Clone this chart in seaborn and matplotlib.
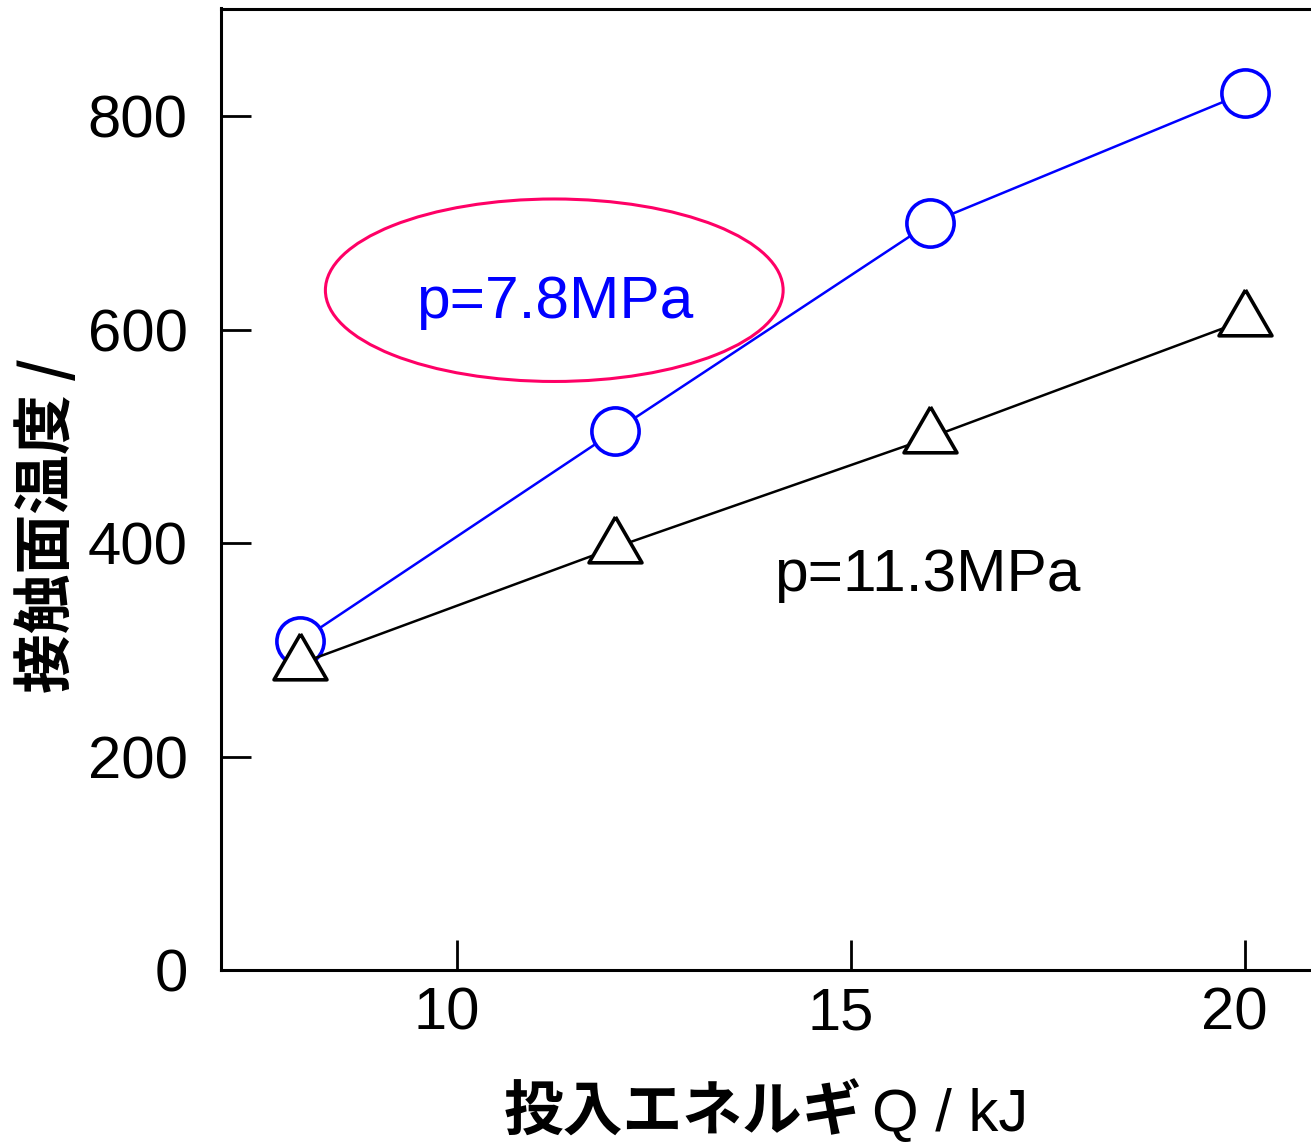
import matplotlib
matplotlib.use("Agg")
import matplotlib.pyplot as plt
from matplotlib.patches import Ellipse
from matplotlib.transforms import ScaledTranslation
import pandas as pd
import seaborn as sns

# values
energy = [8, 12, 16, 20]                      # Q / kJ
temp_78 = [308, 505, 700, 822]                # p = 7.8 MPa (circles)
temp_113 = [287, 396, 499, 609]               # p = 11.3 MPa (triangles)
x_ticks = [10, 15, 20]
y_ticks = [0, 200, 400, 600, 800]

sns.set_style("white")
plt.rcParams["font.family"] = ["Liberation Sans", "Noto Sans CJK JP", "DejaVu Sans"]
plt.rcParams["text.color"] = "black"
plt.rcParams["axes.labelcolor"] = "black"

df = pd.DataFrame({"Q": energy, "p78": temp_78, "p113": temp_113})

fig = plt.figure(figsize=(13.11, 11.42), dpi=100)
ax = fig.add_axes([221 / 1311, 1 - 970 / 1142, 1103 / 1311, 961.5 / 1142])

# equilateral triangle, centred on its centroid (closed path)
tri = [(0, 0.577), (-0.5, -0.289), (0.5, -0.289), (0, 0.577)]

sns.lineplot(data=df, x="Q", y="p78", ax=ax, color="#0000FF", lw=1.8,
             marker="o", ms=34, mfc="white", mec="#0000FF", mew=2.6, zorder=3)
sns.lineplot(data=df, x="Q", y="p113", ax=ax, color="black", lw=1.8,
             marker=tri, ms=44, mfc="white", mec="black", mew=2.6, zorder=4)

ell = Ellipse((11.23, 637), 5.81, 171, fill=False, ec="#FF0066", lw=2.2, zorder=2)
ax.add_patch(ell)
ax.text(11.24, 611, "p=7.8MPa", color="#0000FF", fontsize=43.5, ha="center", va="baseline")
ax.text(15.96, 355, "p=11.3MPa", color="black", fontsize=43.5, ha="center", va="baseline")

ax.set_xlim(7, 21)
ax.set_ylim(0, 901)
ax.set_xticks(x_ticks)
ax.set_yticks(y_ticks)
ax.tick_params(axis="both", direction="in", length=21.5, width=2, labelsize=43,
               colors="black", bottom=True, left=True)
ax.tick_params(axis="y", pad=24)
ax.tick_params(axis="x", pad=12)
# x tick labels sit a little left of their ticks in the original
shift = ScaledTranslation(-11 / 100, 0, fig.dpi_scale_trans)
for lab in ax.get_xticklabels():
    lab.set_transform(lab.get_transform() + shift)
for side in ["left", "bottom", "top", "right"]:
    ax.spines[side].set_linewidth(2.2)
    ax.spines[side].set_color("black")

ax.set_xlabel("")
ax.set_ylabel("接触面温度 /", fontsize=43, fontweight="bold", color="black",
              family=["Noto Sans CJK JP", "DejaVu Sans"])
ax.yaxis.set_label_coords(-0.13, 0.462)

fig.text(862 / 1311, 1 - 1131 / 1142, "投入エネルギ", fontsize=43, fontweight="bold",
         color="black", family=["Noto Sans CJK JP"], ha="right", va="baseline")
fig.text(872 / 1311, 1 - 1131 / 1142, "Q / kJ", fontsize=43, color="black",
         ha="left", va="baseline")

fig.savefig("out.png", dpi=100)
